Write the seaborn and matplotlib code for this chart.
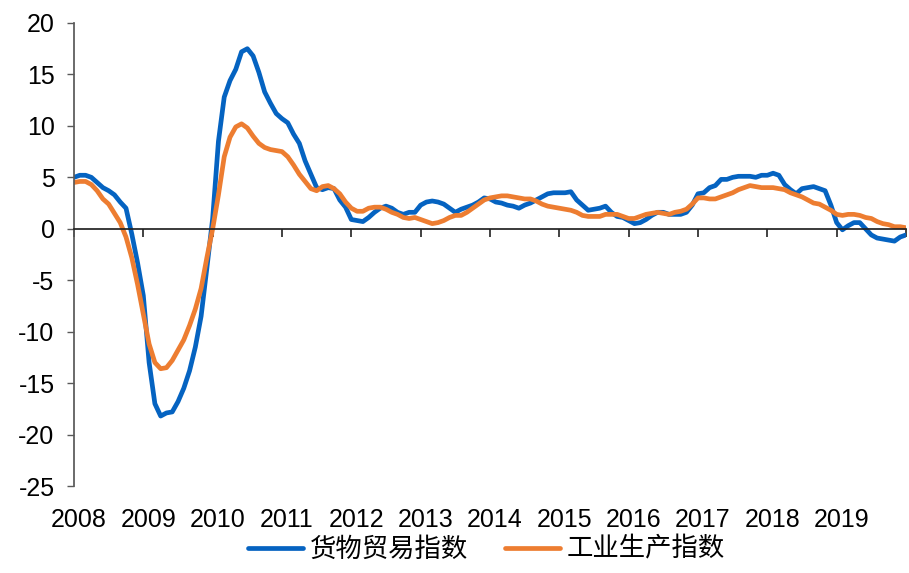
import numpy as np
import pandas as pd
import matplotlib
matplotlib.use('Agg')
import matplotlib.pyplot as plt
import seaborn as sns

# monthly series, Jan 2008 - Jan 2020
goods = [5.0, 5.2, 5.2, 5.0, 4.5, 4.0, 3.7, 3.3, 2.6, 2.0, -0.5, -3.3,
         -6.5, -13.0, -17.0, -18.2, -17.9, -17.8, -16.8, -15.5, -13.8, -11.5, -8.5, -3.8,
         1.0, 8.5, 12.8, 14.4, 15.5, 17.2, 17.5, 16.8, 15.2, 13.3, 12.2, 11.2,
         10.7, 10.3, 9.2, 8.3, 6.6, 5.3, 4.0, 3.8, 4.0, 3.9, 2.8, 2.1,
         0.9, 0.8, 0.7, 1.1, 1.6, 2.0, 2.2, 2.0, 1.6, 1.4, 1.6, 1.6,
         2.3, 2.6, 2.7, 2.6, 2.4, 2.0, 1.6, 1.9, 2.1, 2.3, 2.6, 3.0,
         2.9, 2.6, 2.5, 2.3, 2.2, 2.0, 2.3, 2.5, 2.8, 3.1, 3.4, 3.5,
         3.5, 3.5, 3.6, 2.8, 2.3, 1.8, 1.9, 2.0, 2.2, 1.6, 1.2, 1.1,
         0.8, 0.5, 0.6, 0.9, 1.3, 1.6, 1.6, 1.4, 1.4, 1.4, 1.6, 2.3,
         3.4, 3.5, 4.0, 4.2, 4.8, 4.8, 5.0, 5.1, 5.1, 5.1, 5.0, 5.2,
         5.2, 5.4, 5.2, 4.3, 3.8, 3.4, 3.9, 4.0, 4.1, 3.9, 3.7, 2.3,
         0.6, -0.1, 0.3, 0.6, 0.6, 0.0, -0.6, -0.9, -1.0, -1.1, -1.2, -0.8,
         -0.6]
industry = [4.5, 4.6, 4.6, 4.3, 3.7, 2.9, 2.4, 1.5, 0.6, -0.8, -2.8, -5.4,
            -8.3, -11.2, -13.0, -13.6, -13.5, -12.8, -11.8, -10.8, -9.4, -7.8, -5.8, -2.8,
            0.0, 3.3, 7.0, 8.9, 9.9, 10.2, 9.8, 9.0, 8.3, 7.9, 7.7, 7.6,
            7.5, 7.0, 6.2, 5.3, 4.6, 3.9, 3.7, 4.1, 4.2, 3.9, 3.4, 2.6,
            2.0, 1.7, 1.7, 2.0, 2.1, 2.1, 1.9, 1.6, 1.4, 1.1, 1.0, 1.1,
            0.9, 0.7, 0.5, 0.6, 0.8, 1.1, 1.3, 1.3, 1.6, 2.0, 2.4, 2.8,
            3.0, 3.1, 3.2, 3.2, 3.1, 3.0, 2.9, 2.9, 2.7, 2.4, 2.2, 2.1,
            2.0, 1.9, 1.8, 1.6, 1.3, 1.2, 1.2, 1.2, 1.4, 1.4, 1.4, 1.2,
            1.0, 1.0, 1.2, 1.4, 1.5, 1.6, 1.5, 1.4, 1.6, 1.7, 1.9, 2.4,
            3.0, 3.0, 2.9, 2.9, 3.1, 3.3, 3.5, 3.8, 4.0, 4.2, 4.1, 4.0,
            4.0, 4.0, 3.9, 3.8, 3.5, 3.3, 3.1, 2.8, 2.5, 2.4, 2.1, 1.8,
            1.4, 1.3, 1.4, 1.4, 1.3, 1.1, 1.0, 0.7, 0.5, 0.4, 0.2, 0.2,
            0.1]
labels = ['货物贸易指数', '工业生产指数']
colors = ['#0563C1', '#ED7D31']
years = list(range(2008, 2020))

sns.set_theme(style='white')
plt.rcParams['font.family'] = ['Liberation Sans', 'Noto Sans CJK SC', 'DejaVu Sans']
plt.rcParams['axes.unicode_minus'] = False
plt.rcParams['text.color'] = 'black'
plt.rcParams['xtick.labelcolor'] = 'black'
plt.rcParams['ytick.labelcolor'] = 'black'

t = 2008 + np.arange(len(goods)) / 12
df = pd.DataFrame({'t': t, labels[0]: goods, labels[1]: industry})
df = df.melt('t', var_name='series', value_name='value')

fig = plt.figure(figsize=(9.09, 5.73), dpi=100)
ax = fig.add_axes([74/909, 1 - 486/573, 832/909, 463/573])
sns.lineplot(data=df, x='t', y='value', hue='series', hue_order=labels,
             palette=colors, linewidth=3.4, ax=ax, legend=False)

ax.set_xlim(2008, 2020)
ax.set_ylim(-25, 20)
ax.set_yticks(range(-25, 21, 5))
ax.set_xticks(range(2008, 2021))
ax.set_xlabel('')
ax.set_ylabel('')
for s in ['top', 'right']:
    ax.spines[s].set_visible(False)
ax.spines['bottom'].set_position(('data', 0))
ax.spines['bottom'].set_color('#222222')
ax.spines['left'].set_color('#595959')
ax.tick_params(axis='x', direction='out', length=6, width=1.2, color='#222222',
               labelbottom=False, bottom=True)
ax.tick_params(axis='y', direction='out', length=5, width=1, color='#595959',
               labelsize=18, pad=9, left=True, labelcolor='black')

sec = ax.secondary_xaxis('bottom')
sec.set_xticks([y + 0.07 for y in years], labels=[str(y) for y in years])
sec.tick_params(length=0, labelsize=18, pad=16, labelcolor='black')
sec.spines['bottom'].set_visible(False)

fig.legend(ax.lines[:2], labels, loc='lower center', bbox_to_anchor=(0.535, -0.022),
           ncol=2, frameon=False, fontsize=19, handlelength=2.1,
           handletextpad=0.25, columnspacing=1.4, labelcolor='black')

fig.savefig('out.png', dpi=100)
